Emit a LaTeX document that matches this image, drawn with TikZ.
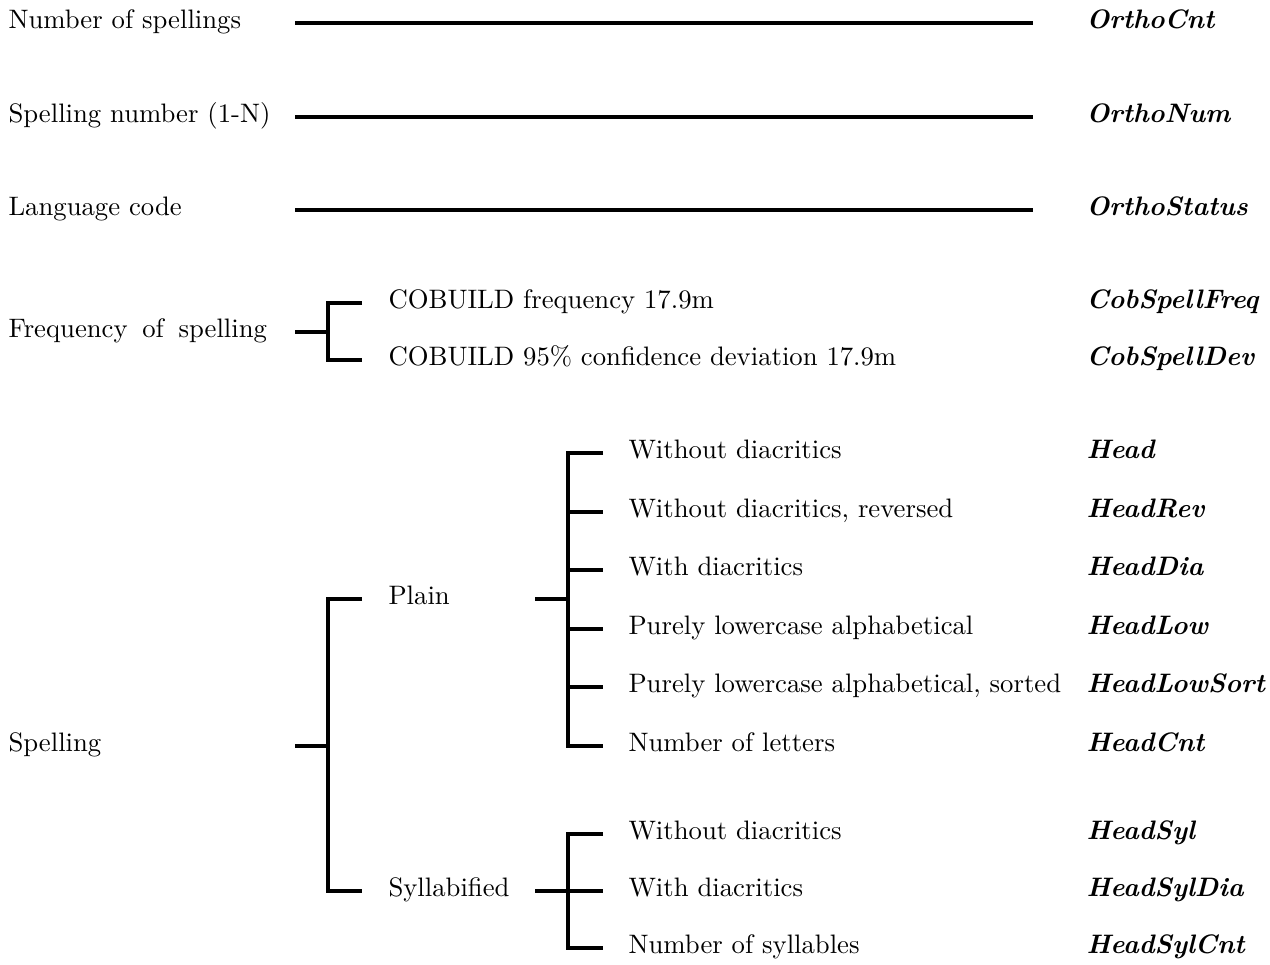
\documentclass[tikz,border=0pt]{standalone}
\begin{document}
\begin{tikzpicture}[
                x=0.3745pt, y=-0.3745pt,
                every node/.style={inner sep=0pt, anchor=west, text height=6.5pt, text depth=2.3pt},
                bar/.style={line width=1.5pt},
                code/.style={font=\bfseries\itshape}
            ]
            \useasboundingbox (0,0) rectangle (1270,964);

            \coordinate (colA) at (295,0);
            \coordinate (colB) at (328,0);
            \coordinate (colC) at (362,0);
            \coordinate (colD) at (535,0);
            \coordinate (colE) at (568,0);
            \coordinate (colF) at (603,0);
            \coordinate (colG) at (1033,0);
            \coordinate (colR) at (1086,0);

            \node (ncnt) at (8,23) {Number of spellings};
            \node (nnum) at (8,116.5) {Spelling number (1-N)};
            \node (nlang) at (8,210) {Language code};
            \node (nfreq) at (8,331.5) {Frequency\hspace{5.5pt}of\hspace{5.5pt}spelling};
            \node (nspell) at (8,745.5) {Spelling};

            \node (cfreq) at (388,303) {COBUILD frequency 17.9m};
            \node (cdev) at (388,360) {COBUILD 95\% confidence deviation 17.9m};
            \node (plain) at (388,599) {Plain};
            \node (syl) at (388,891) {Syllabified};

            \foreach \txt [count=\i] in {Without diacritics, {Without diacritics, reversed}, With diacritics,
                    Purely lowercase alphabetical, {Purely lowercase alphabetical, sorted}, Number of letters}
                \node (p\i) at (628,{453+58.5*(\i-1)}) {\txt};
            \foreach \txt [count=\i] in {Without diacritics, With diacritics, Number of syllables}
                \node (s\i) at (628,{834+57*(\i-1)}) {\txt};

            \node[code] (kcnt) at (ncnt -| colR) {OrthoCnt};
            \node[code] (knum) at (nnum -| colR) {OrthoNum};
            \node[code] (klang) at (nlang -| colR) {OrthoStatus};
            \node[code] (kfreq) at (cfreq -| colR) {CobSpellFreq};
            \node[code] (kdev) at (cdev -| colR) {CobSpellDev};
            \foreach \lab [count=\i] in {Head, HeadRev, HeadDia, HeadLow, HeadLowSort, HeadCnt}
                \node[code] (kp\i) at (p\i -| colR) {\lab};
            \foreach \lab [count=\i] in {HeadSyl, HeadSylDia, HeadSylCnt}
                \node[code] (ks\i) at (s\i -| colR) {\lab};

            \foreach \n in {ncnt, nnum, nlang}
                \draw[bar] (\n -| colA) -- (\n -| colG);

            \draw[bar] (nfreq -| colA) -- (nfreq -| colB);
            \draw[bar] (cfreq -| colC) -- (cfreq -| colB) -- (cdev -| colB) -- (cdev -| colC);

            \draw[bar] (nspell -| colA) -- (nspell -| colB);
            \draw[bar] (plain -| colC) -- (plain -| colB) -- (syl -| colB) -- (syl -| colC);

            \draw[bar] (plain -| colD) -- (plain -| colE);
            \draw[bar] (p1 -| colF) -- (p1 -| colE) -- (p6 -| colE) -- (p6 -| colF);
            \foreach \i in {2,...,5}
                \draw[bar] (p\i -| colE) -- (p\i -| colF);

            \draw[bar] (syl -| colD) -- (syl -| colF);
            \draw[bar] (s1 -| colF) -- (s1 -| colE) -- (s3 -| colE) -- (s3 -| colF);

        \end{tikzpicture}
\end{document}
